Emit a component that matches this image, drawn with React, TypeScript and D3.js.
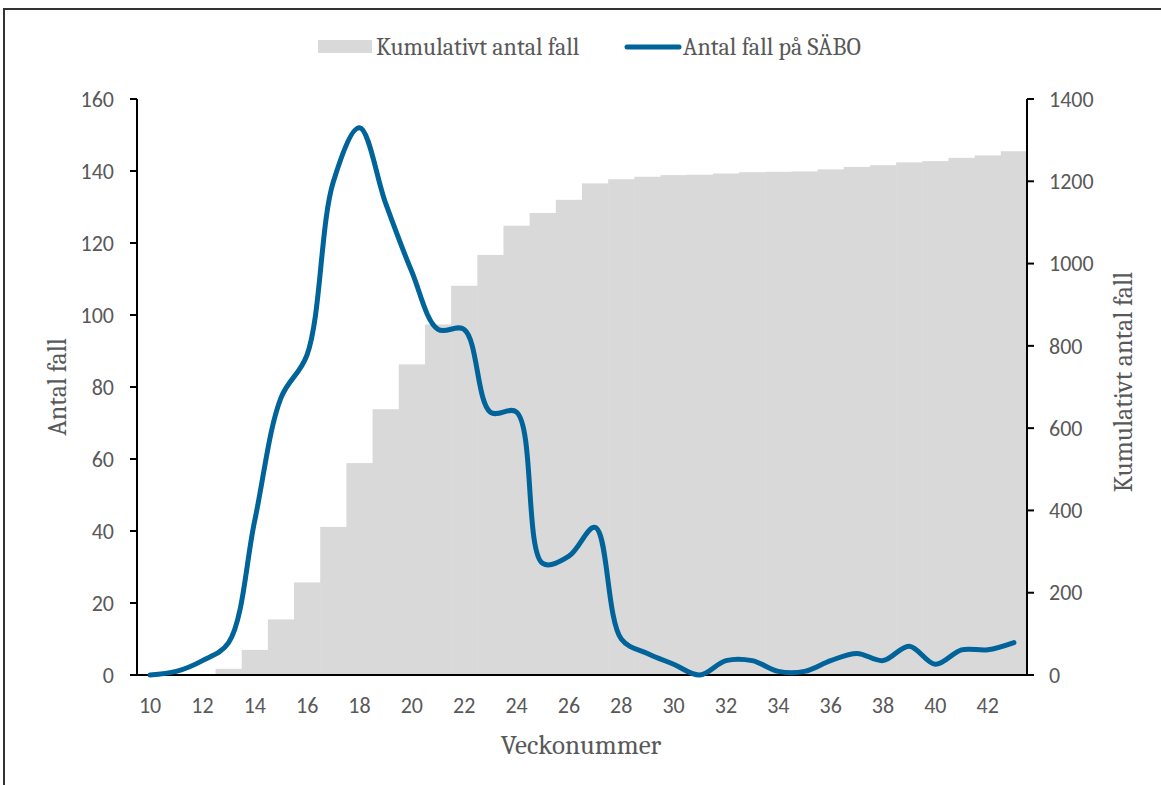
import React from "react";
import * as d3 from "d3";

const weeks: number[] = d3.range(10, 44);
const saboCases: number[] = [0, 1, 4, 9, 43, 77, 89, 137, 152, 131, 112, 96, 96, 73, 73, 31, 33, 41, 10, 6, 3, 0, 4, 4, 1, 1, 4, 6, 4, 8, 3, 7, 7, 9];
const cumulativeCases: number[] = [0, 0, 0, 15, 61, 135, 225, 360, 515, 646, 755, 852, 946, 1021, 1092, 1123, 1155, 1195, 1205, 1211, 1215, 1216, 1219, 1222, 1223, 1224, 1229, 1235, 1239, 1246, 1249, 1257, 1263, 1273];
const leftTicks: number[] = [0, 20, 40, 60, 80, 100, 120, 140, 160];
const rightTicks: number[] = [0, 200, 400, 600, 800, 1000, 1200, 1400];
const xTickLabels: number[] = [10, 12, 14, 16, 18, 20, 22, 24, 26, 28, 30, 32, 34, 36, 38, 40, 42];

const W = 1161;
const H = 785;
const left = 137;
const right = 1027;
const top = 99;
const bottom = 675;
const sans = "Carlito, Lato, 'Open Sans', sans-serif";
const serif = "Caladea, 'DejaVu Serif', 'Liberation Serif', serif";
const textColor = "#595959";
const blue = "#00639a";
const gray = "#d9d9d9";

export default function App() {
  const x = d3.scaleBand<number>().domain(weeks).range([left, right]).padding(0);
  const yL = d3.scaleLinear().domain([0, 160]).range([bottom, top]);
  const yR = d3.scaleLinear().domain([0, 1400]).range([bottom, top]);
  const cx = (w: number) => (x(w) as number) + x.bandwidth() / 2;

  const line = d3
    .line<number>()
    .x((_, i) => cx(weeks[i]))
    .y((d) => yL(d))
    .curve(d3.curveCatmullRom.alpha(0.5));

  return (
    <svg
      width={W}
      height={H}
      style={{ position: "absolute", left: 0, top: 0, background: "#fff" }}
    >
      <rect x={0} y={0} width={W} height={H} fill="#fff" />
      {/* border */}
      <line x1={3} x2={W} y1={9} y2={9} stroke="#333" strokeWidth={2} />
      <line x1={4} x2={4} y1={9} y2={H} stroke="#333" strokeWidth={2} />

      {/* bars */}
      {weeks.map((w, i) => (
        <rect
          key={w}
          x={x(w)}
          y={yR(cumulativeCases[i])}
          width={x.bandwidth() + 0.5}
          height={bottom - yR(cumulativeCases[i])}
          fill={gray}
        />
      ))}

      {/* axes */}
      <line x1={left} x2={left} y1={top} y2={bottom} stroke="#000" strokeWidth={2} />
      <line x1={right} x2={right} y1={top} y2={bottom} stroke="#000" strokeWidth={2} />
      <line x1={left - 7} x2={right + 7} y1={bottom} y2={bottom} stroke="#000" strokeWidth={2} />
      {leftTicks.map((t) => (
        <g key={"l" + t}>
          <line x1={left - 7} x2={left} y1={yL(t)} y2={yL(t)} stroke="#000" strokeWidth={2} />
          <text
            x={114}
            y={yL(t)}
            dy="0.35em"
            textAnchor="end"
            fontFamily={sans}
            fontSize={22}
            fill={textColor}
          >
            {t}
          </text>
        </g>
      ))}
      {rightTicks.map((t) => (
        <g key={"r" + t}>
          <line x1={right} x2={right + 7} y1={yR(t)} y2={yR(t)} stroke="#000" strokeWidth={2} />
          <text
            x={1049}
            y={yR(t)}
            dy="0.35em"
            textAnchor="start"
            fontFamily={sans}
            fontSize={22}
            fill={textColor}
          >
            {t}
          </text>
        </g>
      ))}
      {xTickLabels.map((t) => (
        <text
          key={"x" + t}
          x={cx(t)}
          y={713}
          textAnchor="middle"
          fontFamily={sans}
          fontSize={22}
          fill={textColor}
        >
          {t}
        </text>
      ))}

      {/* line */}
      <path
        d={line(saboCases) || ""}
        fill="none"
        stroke={blue}
        strokeWidth={5}
        strokeLinecap="round"
        strokeLinejoin="round"
      />

      {/* axis titles */}
      <text
        x={581}
        y={754}
        textAnchor="middle"
        fontFamily={serif}
        fontSize={27}
        fill={textColor}
      >
        Veckonummer
      </text>
      <text
        transform={`translate(66, 387) rotate(-90)`}
        textAnchor="middle"
        fontFamily={serif}
        fontSize={26}
        fill={textColor}
      >
        Antal fall
      </text>
      <text
        transform={`translate(1132, 382) rotate(-90)`}
        textAnchor="middle"
        fontFamily={serif}
        fontSize={26}
        fill={textColor}
      >
        Kumulativt antal fall
      </text>

      {/* legend */}
      <rect x={318} y={40} width={54} height={13} fill={gray} />
      <text x={376} y={55} fontFamily={serif} fontSize={24} fill={textColor}>
        Kumulativt antal fall
      </text>
      <line x1={627} x2={679} y1={47} y2={47} stroke={blue} strokeWidth={5} strokeLinecap="round" />
      <text x={683} y={55} fontFamily={serif} fontSize={24} fill={textColor}>
        Antal fall på SÄBO
      </text>
    </svg>
  );
}
